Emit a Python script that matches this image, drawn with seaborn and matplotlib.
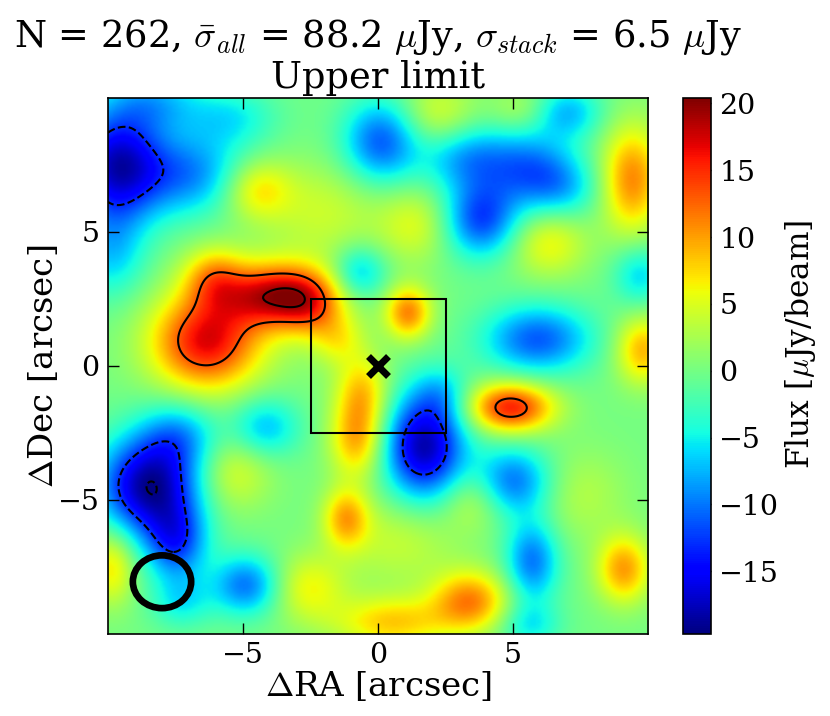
import numpy as np
import matplotlib
matplotlib.use("Agg")
import matplotlib.pyplot as plt
from matplotlib.patches import Ellipse, Rectangle
import seaborn as sns

# ---- data: components of the stacked flux map ----
# blob centre x [arcsec], centre y [arcsec], amplitude [uJy/beam], widths [arcsec]
blob_x = [-9.7, -7.0, -8.3, -5.5, 0.1, -0.7, -9.9, 3.3, 5.7, 6.8, 3.8, 7.0,
          9.7, 5.9, -8.5, -7.5, -7.4, -4.9, -7.3, -4.2, 1.7, 5.0, 5.7, 5.6,
          2.3,
          -4.5, -2.0, 1.4, 2.2, 5.3, 9.4, 6.3, 1.1, 9.8, -3.7, -6.4, -6.1,
          -2.5, -5.0, -0.6, -0.8, -1.2, -1.5, 4.9, -5.4, -9.9, -2.6, 0.5,
          3.4, 9.1, 0.8, 7.5, 3.5]
blob_y = [7.5, 7.2, 9.9, 9.3, 8.4, 3.5, 4.2, 7.8, 7.4, 6.6, 5.5, 9.5,
          3.4, 1.0, -4.5, -6.6, -2.6, -8.2, -8.8, -2.3, -3.0, -4.3, -7.3, -9.7,
          -1.0,
          6.6, 5.8, 5.3, 9.4, 9.6, 7.0, 4.6, 2.0, 0.6, 2.65, 0.9, 3.3,
          2.2, 2.0, -1.0, -2.8, -5.7, 1.0, -1.55, -4.0, -7.5, -8.3, -9.6,
          -8.8, -7.6, -6.5, -4.8, -5.0]
blob_amp = [-17, -9, -6, -5, -11, -7, -6, -8, -9, -5, -12, -7,
            -6, -11, -18.7, -11, -7, -10, -5, -7, -18, -10, -10, -5,
            -4,
            7, 4, 5, 5, 3, 11, 6, 11, 9, 17, 16, 8,
            6, 1, 8, 9, 9, 5, 15.5, 5, 7, 6, 8,
            11, 10, 4, 3, 4]
blob_sx = [1.2, 1.4, 1.2, 1.2, 1.0, 0.7, 0.9, 1.2, 1.2, 1.0, 1.0, 0.9,
           0.7, 1.4, 1.3, 0.8, 1.0, 0.9, 0.8, 0.9, 1.05, 1.0, 0.7, 0.8,
           0.7,
           0.9, 1.5, 1.0, 1.0, 0.8, 0.8, 1.0, 0.6, 0.7, 1.4, 1.4, 0.8,
           0.8, 2.5, 0.7, 0.7, 0.6, 0.7, 1.1, 1.0, 0.6, 1.0, 1.5,
           1.0, 0.7, 1.5, 1.2, 0.8]
blob_sy = [1.5, 1.1, 0.8, 0.8, 1.1, 0.7, 1.2, 0.9, 1.0, 0.8, 1.0, 0.7,
           0.8, 0.9, 1.3, 1.0, 0.9, 0.8, 0.7, 0.8, 1.4, 0.9, 1.1, 0.6,
           0.7,
           0.8, 1.3, 1.0, 0.9, 0.6, 1.4, 0.9, 0.7, 0.9, 0.85, 1.25, 0.8,
           0.8, 2.0, 1.0, 1.0, 0.8, 0.7, 0.65, 1.0, 1.0, 0.9, 0.7,
           0.8, 0.9, 1.2, 1.2, 0.8]

sigma_stack = 6.5
contour_neg = [-3 * sigma_stack, -2 * sigma_stack]
contour_pos = [2 * sigma_stack, 3 * sigma_stack]
cbar_ticks = [-15, -10, -5, 0, 5, 10, 15, 20]
axis_ticks = [-5, 0, 5]
vmin, vmax = -19.7, 20.4
beam_w, beam_h = 2.16, 1.97
box_half = 2.5

# ---- build map ----
g = np.linspace(-10, 10, 301)
X, Y = np.meshgrid(g, g)
Z = np.zeros_like(X)
for x0, y0, a, sx, sy in zip(blob_x, blob_y, blob_amp, blob_sx, blob_sy):
    Z += a * np.exp(-0.5 * (((X - x0) / sx) ** 2 + ((Y - y0) / sy) ** 2))

sns.set_style("ticks")
plt.rcParams["font.family"] = ["DejaVu Serif"]
plt.rcParams["mathtext.fontset"] = "cm"
for k in ["text.color", "axes.labelcolor", "xtick.color", "ytick.color",
          "axes.edgecolor"]:
    plt.rcParams[k] = "black"
plt.rcParams["xtick.direction"] = "in"
plt.rcParams["ytick.direction"] = "in"

fig = plt.figure(figsize=(8.3, 7.16), dpi=100)
ax = fig.add_axes([108 / 830, 82 / 716, 540 / 830, 536 / 716])
cax = fig.add_axes([683 / 830, 82 / 716, 28 / 830, 536 / 716])

cmap = matplotlib.colormaps["jet"]
im = ax.imshow(Z, origin="lower", extent=[-10, 10, -10, 10], cmap=cmap,
               vmin=vmin, vmax=vmax, interpolation="bilinear", aspect="auto")
ax.contour(X, Y, Z, levels=contour_neg, colors="k", linestyles="dashed",
           linewidths=1.5)
ax.contour(X, Y, Z, levels=contour_pos, colors="k", linestyles="solid",
           linewidths=1.5)

ax.add_patch(Rectangle((-box_half, -box_half), 2 * box_half, 2 * box_half,
                       fill=False, ec="k", lw=1.5))
ax.plot([0], [0], marker="x", ms=15, mew=5, color="k")
ax.add_patch(Ellipse((-8.0, -8.05), beam_w, beam_h, fill=False, ec="k", lw=4.8))

ax.set_xlim(-10, 10)
ax.set_ylim(-10, 10)
ax.set_xticks(axis_ticks)
ax.set_yticks(axis_ticks)
ax.tick_params(top=True, right=True, length=8, width=1, labelsize=20.5, pad=6)
for s in ax.spines.values():
    s.set_linewidth(1.2)
ax.set_xlabel(r"$\Delta$RA [arcsec]", fontsize=24.5, labelpad=0)
ax.set_ylabel(r"$\Delta$Dec [arcsec]", fontsize=24.5, labelpad=-2)
ax.set_title("N = 262, $\\bar{\\sigma}_{all}$ = 88.2 $\\mu$Jy, "
             "$\\sigma_{stack}$ = 6.5 $\\mu$Jy\nUpper limit",
             fontsize=26.5, pad=7, linespacing=1.12)

cb = fig.colorbar(im, cax=cax, ticks=cbar_ticks)
cb.ax.tick_params(direction="in", length=6, width=1, labelsize=20.5, pad=6)
cb.outline.set_linewidth(1.2)
cax.text(4.2, 0.54, r"Flux [$\mu$Jy/beam]", transform=cax.transAxes,
         rotation=90, ha="center", va="center", fontsize=22.5)

fig.savefig("out.png", dpi=100)
